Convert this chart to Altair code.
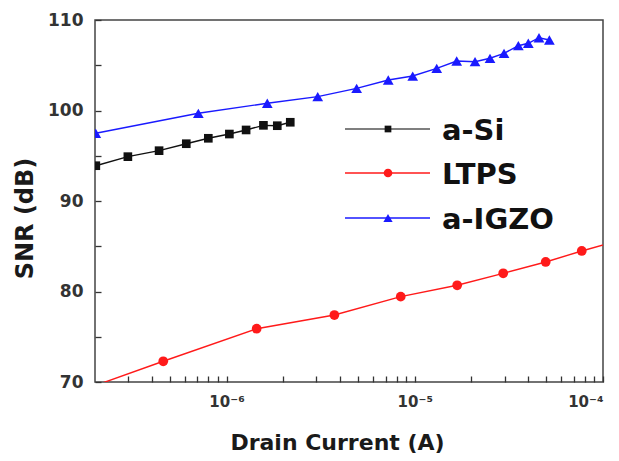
import altair as alt
import pandas as pd

# ---- data ----
series_names = ["a-Si", "LTPS", "a-IGZO"]
series_colors = ["#111111", "#ff1a1a", "#1a1aff"]
series_shapes = ["square", "circle", "triangle-up"]

asi_current = [2.02e-7, 2.99e-7, 4.38e-7, 6.11e-7, 8.0e-7, 1.035e-6, 1.27e-6, 1.57e-6, 1.86e-6, 2.18e-6]
asi_snr = [93.9, 94.9, 95.56, 96.33, 96.93, 97.4, 97.85, 98.36, 98.32, 98.7]

ltps_current = [1.66e-7, 4.61e-7, 1.445e-6, 3.74e-6, 8.42e-6, 1.68e-5, 2.95e-5, 4.96e-5, 7.71e-5, 1.23e-4]
ltps_snr = [69.0, 72.29, 75.89, 77.4, 79.43, 80.69, 82.01, 83.26, 84.48, 85.65]

igzo_current = [2.02e-7, 7.08e-7, 1.646e-6, 3.05e-6, 4.91e-6, 7.23e-6, 9.75e-6, 1.308e-5, 1.67e-5,
                2.09e-5, 2.51e-5, 2.98e-5, 3.55e-5, 4.01e-5, 4.57e-5, 5.19e-5]
igzo_snr = [97.48, 99.69, 100.8, 101.53, 102.45, 103.37, 103.81, 104.66, 105.47,
            105.39, 105.77, 106.32, 107.16, 107.43, 108.04, 107.79]

# tick positions (majors are labelled, the rest are minor ticks)
x_ticks = [3e-7, 4e-7, 5e-7, 6e-7, 7e-7, 8e-7, 9e-7, 1e-6,
           2e-6, 3e-6, 4e-6, 5e-6, 6e-6, 7e-6, 8e-6, 9e-6, 1e-5,
           2e-5, 3e-5, 4e-5, 5e-5, 6e-5, 7e-5, 8e-5, 9e-5, 1e-4]
y_ticks = [70, 75, 80, 85, 90, 95, 100, 105, 110]

frames = []
for name, xs, ys in [("a-Si", asi_current, asi_snr),
                     ("LTPS", ltps_current, ltps_snr),
                     ("a-IGZO", igzo_current, igzo_snr)]:
    frames.append(pd.DataFrame({"series": name, "current": xs, "snr": ys}))
df = pd.concat(frames, ignore_index=True)

FONT = "DejaVu Sans"
W, H = 508, 362

xscale = alt.Scale(type="log", domain=[2e-7, 1e-4], nice=False)
yscale = alt.Scale(domain=[70, 110], nice=False, zero=False)
cscale = alt.Scale(domain=series_names, range=series_colors)

x_label_expr = ("abs(datum.value - 1e-6) < 1e-9 ? '10⁻⁶' : abs(datum.value - 1e-5) < 1e-8 ? '10⁻⁵' : "
                "abs(datum.value - 1e-4) < 1e-7 ? '10⁻⁴' : ''")
y_label_expr = "datum.value % 10 == 0 ? datum.label : ''"

xaxis = alt.Axis(values=x_ticks, labelExpr=x_label_expr, ticks=True, tickSize={"expr": "-6"},
                 tickColor="#333333", tickWidth=1.3, domain=False, grid=False, zindex=1,
                 labelFont=FONT, labelFontWeight="bold", labelFontSize=15, labelColor="#333333",
                 labelPadding=18, labelOverlap=False,
                 title="Drain Current (A)", titleFont=FONT, titleFontWeight="bold",
                 titleFontSize=22, titleColor="#1a1a1a", titleX=242, titleY=60,
                 titleBaseline="middle")
yaxis = alt.Axis(values=y_ticks, labelExpr=y_label_expr, ticks=True, tickSize={"expr": "-6"},
                 tickColor="#333333", tickWidth=1.3, domain=False, grid=False, zindex=1,
                 labelFont=FONT, labelFontWeight="bold", labelFontSize=17, labelColor="#333333",
                 labelPadding=18, labelFlush=False, labelOverlap=False,
                 title="SNR (dB)", titleFont=FONT, titleFontWeight="bold",
                 titleFontSize=24, titleColor="#1a1a1a", titleX=-70, titleY=198,
                 titleBaseline="middle", titleAngle=-90)

lines = alt.Chart(df).mark_line(clip=True, strokeWidth=1.4).encode(
    x=alt.X("current:Q", scale=xscale, axis=xaxis),
    y=alt.Y("snr:Q", scale=yscale, axis=yaxis),
    color=alt.Color("series:N", scale=cscale, legend=None),
)

points = alt.Chart(df).mark_point(filled=True, clip=True, opacity=1).encode(
    x=alt.X("current:Q", scale=xscale, axis=xaxis),
    y=alt.Y("snr:Q", scale=yscale, axis=yaxis),
    color=alt.Color("series:N", scale=cscale, legend=None),
    shape=alt.Shape("series:N", scale=alt.Scale(domain=series_names, range=series_shapes), legend=None),
    size=alt.Size("series:N", scale=alt.Scale(domain=series_names, range=[75, 115, 140]), legend=None),
)

# ---- manual legend inside the plot ----
legend_rows_y = [109, 153, 198]
legend_sizes = [45, 75, 85]
legend_layers = []
for name, col, shp, ly, sz in zip(series_names, series_colors, series_shapes, legend_rows_y, legend_sizes):
    ldf = pd.DataFrame({"name": [name]})
    legend_layers.append(
        alt.Chart(ldf).mark_rule(strokeWidth=1.4, color="#555555" if name == "a-Si" else col).encode(
            x=alt.value(250), x2=alt.value(335), y=alt.value(ly))
    )
    legend_layers.append(
        alt.Chart(ldf).mark_point(filled=True, opacity=1, color=col, shape=shp, size=sz).encode(
            x=alt.value(293), y=alt.value(ly))
    )
    legend_layers.append(
        alt.Chart(ldf).mark_text(font=FONT, fontWeight="bold", fontSize=29, color="#111111",
                                 align="left", baseline="alphabetic").encode(
            x=alt.value(347), y=alt.value(ly + 11), text="name:N")
    )

chart = alt.layer(lines, points, *legend_layers).properties(
    width=W, height=H,
    autosize=alt.AutoSizeParams(type="none"),
    padding={"left": 95, "top": 20, "right": 16, "bottom": 79},
    background="white",
).configure_view(stroke="#444444", strokeWidth=1.5)

chart.save("out.html", embed_options={"renderer": "svg", "actions": False})
